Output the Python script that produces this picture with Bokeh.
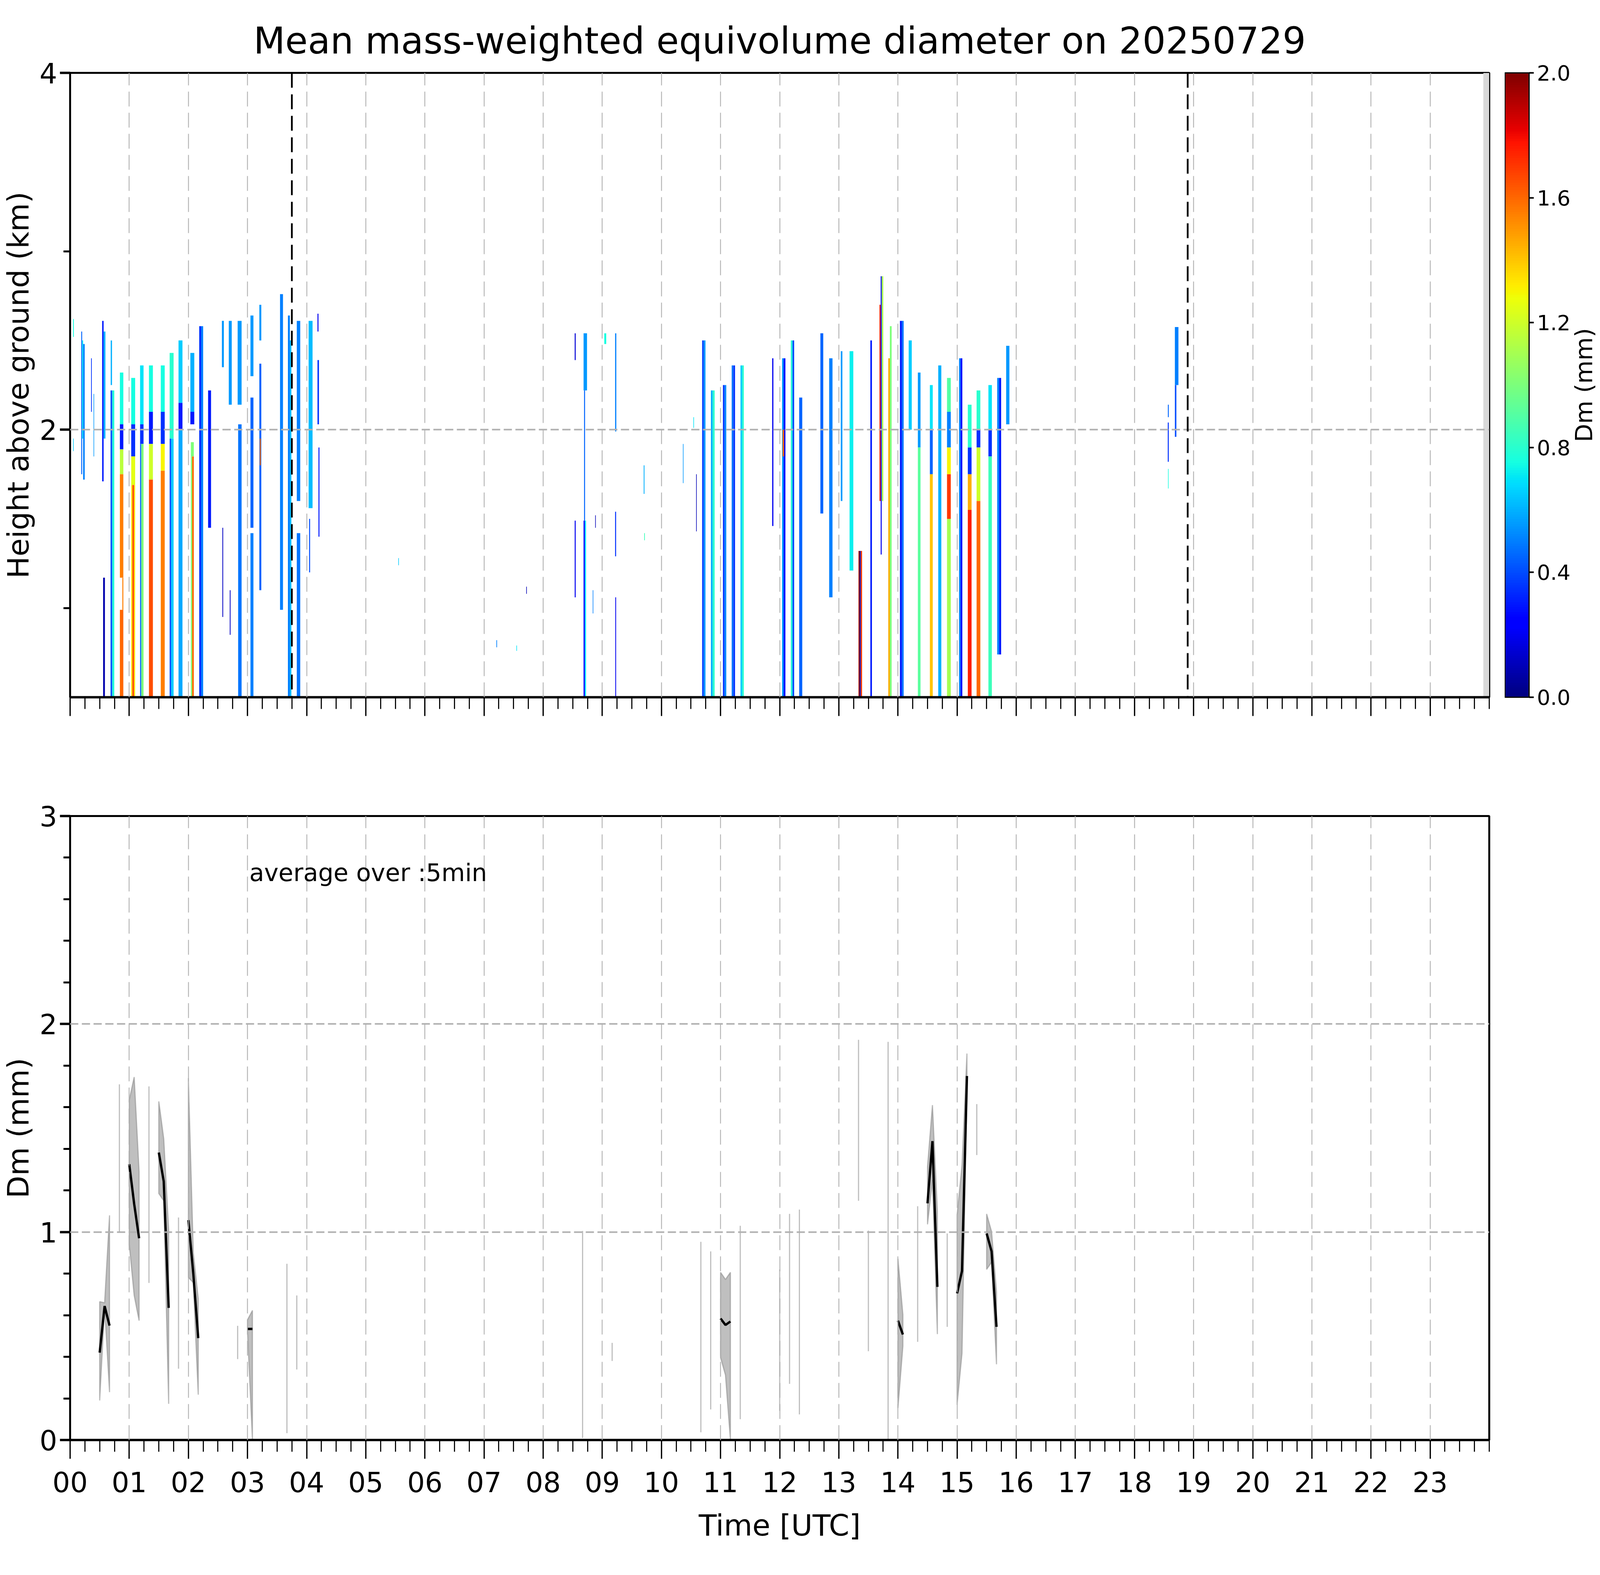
import numpy as np
from bokeh.plotting import figure
from bokeh.models import (ColumnDataSource, LinearColorMapper, ColorBar, FixedTicker,
                          PrintfTickFormatter, Span, Label, Range1d)
from bokeh.layouts import column, row
from bokeh.embed import file_html
from bokeh.resources import INLINE
from bokeh.transform import linear_cmap

FONT = "DejaVu Sans"
TITLE = "Mean mass-weighted equivolume diameter on 20250729"
hour_ticks = list(range(24))
hour_labels = ["%02d" % h for h in hour_ticks]
cbar_ticks = [0.0, 0.4, 0.8, 1.2, 1.6, 2.0]
dm_low, dm_high = 0.0, 2.0
height_range = (0.5, 4.0)
dm_range = (0.0, 3.0)
marker_hours = [3.75, 18.9]        # black dashed lines in upper panel
nodata_start_hour = 23.9           # grey (no data) band at end of day
note_text = "average over :5min"

# Upper panel: radar Dm curtains as cells (start min, end min, bottom km, top km, Dm mm)
cells_early = [
    (3.0, 3.8, 2.52, 2.62, 0.75), (3.0, 3.6, 1.88, 1.95, 0.65),
    (11.3, 12.2, 1.75, 2.55, 0.45), (12.2, 13.2, 1.95, 2.50, 0.70), (13.2, 14.8, 1.72, 2.48, 0.50),
    (21.3, 22.0, 2.10, 2.40, 0.35), (23.8, 24.4, 1.85, 2.20, 0.55),
    (32.5, 34.0, 1.71, 2.61, 0.30), (34.0, 35.8, 1.95, 2.55, 0.60), (33.5, 35.3, 0.50, 1.17, 0.08),
    (41.0, 42.8, 0.50, 2.22, 0.42), (42.8, 44.8, 0.50, 2.22, 0.78), (41.2, 42.5, 2.25, 2.50, 0.60),
    (50.5, 54.0, 2.03, 2.32, 0.75), (50.5, 54.0, 1.89, 2.03, 0.30), (50.5, 54.0, 1.75, 1.89, 1.15),
    (50.5, 54.0, 1.17, 1.75, 1.55), (53.0, 54.0, 0.99, 1.17, 1.55), (50.5, 54.0, 0.50, 0.99, 1.60),
    (62.0, 66.0, 2.03, 2.29, 0.75), (62.0, 66.0, 1.85, 2.03, 0.35), (62.0, 66.0, 1.69, 1.85, 1.25),
    (62.0, 63.2, 0.50, 1.69, 1.35), (63.2, 65.0, 0.50, 1.69, 1.65), (65.0, 66.0, 0.50, 1.69, 1.30),
    (71.0, 74.5, 2.03, 2.36, 0.70), (71.0, 74.5, 1.92, 2.03, 0.35),
    (71.0, 72.2, 0.50, 1.92, 0.45), (72.2, 74.5, 0.50, 1.92, 1.00),
    (80.0, 84.0, 2.10, 2.36, 0.75), (80.0, 84.0, 1.92, 2.10, 0.30),
    (80.0, 84.0, 1.72, 1.92, 1.20), (80.0, 84.0, 0.50, 1.72, 1.65),
    (92.0, 96.0, 2.10, 2.36, 0.75), (92.0, 96.0, 1.92, 2.10, 0.35),
    (92.0, 96.0, 1.77, 1.92, 1.30), (92.0, 96.0, 0.50, 1.77, 1.55),
    (101.0, 105.0, 1.95, 2.43, 0.80), (101.0, 102.5, 0.50, 1.95, 0.40), (102.5, 105.0, 0.50, 1.95, 0.65),
    (110.0, 114.0, 2.15, 2.50, 0.65), (110.0, 114.0, 2.00, 2.15, 0.30), (110.0, 114.0, 0.50, 2.00, 0.58),
    (122.0, 126.0, 2.10, 2.43, 0.60), (122.0, 126.0, 2.03, 2.10, 0.30), (122.5, 125.5, 1.85, 1.93, 1.00),
    (122.5, 123.8, 0.50, 1.85, 1.00), (123.8, 125.5, 0.50, 1.85, 1.60),
    (131.0, 133.0, 0.50, 2.58, 0.35), (133.0, 135.0, 0.50, 2.58, 0.50),
    (140.0, 143.0, 1.45, 2.22, 0.30),
    (154.0, 156.0, 2.35, 2.61, 0.55), (154.5, 155.3, 0.95, 1.45, 0.12),
    (161.0, 164.0, 2.14, 2.61, 0.55), (162.0, 162.8, 0.85, 1.10, 0.12),
    (170.0, 174.0, 2.14, 2.61, 0.55), (170.5, 174.0, 0.50, 2.03, 0.48),
    (183.0, 186.0, 2.30, 2.64, 0.55), (183.0, 186.0, 1.45, 2.18, 0.45), (183.0, 186.0, 0.50, 1.42, 0.50),
    (192.0, 194.0, 2.50, 2.70, 0.55), (192.0, 194.0, 1.10, 2.37, 0.45), (192.5, 193.5, 1.80, 1.95, 1.60),
    (213.0, 216.0, 0.99, 2.76, 0.50),
    (221.0, 223.0, 0.50, 2.64, 0.50), (223.0, 224.5, 0.50, 2.50, 0.62),
    (230.0, 233.5, 1.60, 2.61, 0.50), (230.0, 233.5, 0.50, 1.42, 0.48),
    (242.0, 246.0, 1.56, 2.61, 0.62), (242.5, 243.5, 1.20, 1.50, 0.40),
    (251.0, 252.5, 2.03, 2.39, 0.35), (251.0, 252.0, 2.55, 2.65, 0.20), (252.0, 253.0, 1.40, 1.90, 0.30),
]
cells_sparse = [
    (333.0, 333.6, 1.24, 1.28, 0.65), (432.5, 433.2, 0.78, 0.82, 0.50),
    (452.8, 453.4, 0.76, 0.79, 0.70), (462.8, 463.4, 1.08, 1.12, 0.10),
    (512.0, 513.0, 2.39, 2.54, 0.15), (512.0, 513.0, 1.06, 1.49, 0.20),
    (521.0, 524.5, 2.22, 2.54, 0.55), (521.5, 522.5, 1.49, 2.22, 0.45),
    (521.0, 522.3, 0.50, 1.49, 0.25), (522.3, 523.5, 0.50, 1.49, 0.70),
    (530.3, 530.9, 0.97, 1.10, 0.50), (532.8, 533.4, 1.45, 1.52, 0.10),
    (542.0, 544.0, 2.48, 2.54, 0.75),
    (553.0, 554.2, 1.99, 2.54, 0.50), (553.0, 554.0, 1.29, 1.54, 0.35), (553.2, 554.0, 0.50, 1.06, 0.20),
    (582.0, 582.8, 1.64, 1.80, 0.60), (582.5, 583.2, 1.38, 1.42, 0.85),
    (621.8, 622.4, 1.70, 1.92, 0.55), (632.4, 633.0, 2.01, 2.07, 0.70), (635.2, 635.8, 1.43, 1.75, 0.10),
]
cells_midday = [
    (641.3, 643.0, 0.50, 2.50, 0.38), (643.0, 644.7, 0.50, 2.50, 0.55),
    (650.2, 652.0, 0.50, 2.22, 0.60), (652.0, 654.0, 0.50, 2.22, 0.80),
    (662.4, 664.0, 0.50, 2.25, 0.35), (664.0, 665.8, 0.50, 2.25, 0.52),
    (671.3, 673.0, 0.50, 2.36, 0.48), (673.0, 674.7, 0.50, 2.36, 0.35),
    (680.2, 682.0, 0.50, 2.36, 0.65), (682.0, 683.6, 0.50, 2.36, 0.80),
    (712.4, 713.6, 1.46, 2.40, 0.20),
    (722.4, 724.0, 0.50, 2.40, 0.55), (724.0, 725.8, 0.50, 2.40, 0.25), (723.0, 724.5, 1.85, 2.00, 1.60),
    (731.3, 733.0, 0.50, 2.50, 0.78), (733.0, 734.7, 0.50, 2.50, 0.40),
    (739.8, 742.9, 0.50, 2.18, 0.45),
    (761.3, 764.2, 1.53, 2.54, 0.45), (770.2, 773.6, 1.06, 2.40, 0.50),
    (782.0, 783.6, 1.60, 2.44, 0.55), (790.9, 794.7, 1.21, 2.44, 0.72),
    (800.0, 801.2, 0.50, 1.32, 1.95), (801.2, 802.3, 0.50, 1.32, 0.10), (802.3, 803.6, 0.50, 1.32, 1.70),
    (812.0, 813.6, 0.50, 2.50, 0.30),
    (821.3, 822.5, 1.60, 2.70, 1.80), (822.5, 823.5, 1.30, 2.86, 0.20), (823.5, 825.1, 1.60, 2.86, 1.10),
    (830.2, 831.8, 0.50, 2.40, 1.45), (831.8, 833.6, 0.50, 2.58, 1.00),
    (842.0, 844.0, 0.50, 2.61, 0.30), (844.0, 845.8, 0.50, 2.61, 0.48),
    (850.9, 854.0, 2.00, 2.50, 0.65),
    (860.2, 862.9, 1.90, 2.32, 0.55), (860.2, 862.9, 0.50, 1.90, 0.92),
    (872.4, 875.3, 2.00, 2.25, 0.70), (872.4, 875.3, 1.75, 2.00, 0.45), (872.4, 875.3, 0.50, 1.75, 1.40),
    (880.9, 884.0, 0.50, 2.36, 0.60),
    (889.8, 893.6, 2.10, 2.29, 0.90), (889.8, 893.6, 1.90, 2.10, 0.50), (889.8, 893.6, 1.75, 1.90, 1.30),
    (889.8, 893.6, 1.50, 1.75, 1.70), (889.8, 893.6, 0.50, 1.50, 1.10),
    (902.0, 903.6, 0.50, 2.40, 0.50), (903.6, 905.3, 0.50, 2.40, 0.25),
    (910.9, 914.7, 1.90, 2.14, 0.80), (910.9, 914.7, 1.75, 1.90, 0.35),
    (910.9, 914.7, 1.55, 1.75, 1.45), (910.9, 914.7, 0.50, 1.55, 1.75),
    (919.8, 923.6, 2.00, 2.22, 0.80), (919.8, 923.6, 1.90, 2.00, 0.35),
    (919.8, 923.6, 1.60, 1.90, 1.20), (919.8, 923.6, 0.50, 1.60, 1.60),
    (931.8, 935.3, 2.00, 2.25, 0.70), (931.8, 935.3, 1.85, 2.00, 0.35), (931.8, 935.3, 0.50, 1.85, 0.85),
    (940.7, 942.7, 0.74, 2.29, 0.50), (942.7, 944.7, 0.74, 2.29, 0.30),
    (949.8, 953.1, 2.03, 2.47, 0.55),
]
cells_evening = [
    (1121.0, 1124.6, 2.25, 2.575, 0.50), (1121.0, 1122.5, 1.96, 2.25, 0.40),
    (1113.9, 1114.8, 2.07, 2.14, 0.45), (1113.8, 1114.8, 1.82, 2.04, 0.35),
    (1114.0, 1114.6, 1.67, 1.78, 0.75),
]

# Lower panel: 5-min averages (minutes of day, mean, lower, upper); nan mean = isolated sample
avg_min = [30, 35, 40, 50, 60, 65, 70, 80, 90, 95, 100, 110, 120, 125, 130, 170, 180, 185, 220, 230,
           520, 550, 640, 650, 660, 665, 670, 680, 720, 730, 740, 800, 810, 830, 840, 845, 860,
           870, 875, 880, 890, 900, 905, 910, 920, 930, 935, 940]
avg_mean = [0.42, 0.644, 0.55, np.nan, 1.326, 1.135, 0.97, np.nan, 1.382, 1.243, 0.635, np.nan,
            1.057, 0.80, 0.49, np.nan, 0.534, 0.534, np.nan, np.nan,
            np.nan, np.nan, np.nan, np.nan, 0.584, 0.553, 0.570, np.nan, np.nan, np.nan, np.nan,
            np.nan, np.nan, np.nan, 0.574, 0.507, np.nan,
            1.138, 1.437, 0.736, np.nan, 0.705, 0.813, 1.75, np.nan, 0.993, 0.907, 0.544]
avg_lo = [0.19, 0.64, 0.23, 1.0, 0.94, 0.695, 0.574, 0.755, 1.185, 1.15, 0.174, 0.343,
          0.782, 0.756, 0.218, 0.389, 0.52, 0.0, 0.033, 0.339,
          0.01, 0.38, 0.037, 0.147, 0.396, 0.312, 0.0, 0.10, 0.14, 0.27, 0.123,
          1.15, 0.427, 0.0, 0.154, 0.451, 0.472,
          1.037, 1.25, 0.509, 0.544, 0.17, 0.417, 1.70, 1.37, 0.82, 0.855, 0.364]
avg_hi = [0.665, 0.66, 1.08, 1.71, 1.635, 1.745, 1.29, 1.70, 1.628, 1.448, 1.01, 1.07,
          1.74, 0.90, 0.68, 0.549, 0.578, 0.623, 0.847, 0.695,
          1.005, 0.467, 0.953, 0.907, 0.806, 0.772, 0.806, 1.03, 0.82, 1.087, 1.108,
          1.924, 1.007, 1.914, 0.872, 0.603, 1.124,
          1.314, 1.61, 1.10, 0.993, 1.082, 1.32, 1.858, 1.615, 1.087, 1.002, 0.712]


def jet_palette(n=256):
    x = np.linspace(0, 1, n)
    r = np.interp(x, [0, 0.35, 0.66, 0.89, 1], [0, 0, 1, 1, 0.5])
    g = np.interp(x, [0, 0.125, 0.375, 0.64, 0.91, 1], [0, 0, 1, 1, 0, 0])
    b = np.interp(x, [0, 0.11, 0.34, 0.65, 1], [0.5, 1, 1, 0, 0])
    return ["#%02x%02x%02x" % (int(round(ri * 255)), int(round(gi * 255)), int(round(bi * 255)))
            for ri, gi, bi in zip(r, g, b)]


JET = jet_palette()
FRAME_W, FRAME_H = 3633, 1598
LEFT = 175
TOP1, BOT1 = 186, 60
GRID_COLOR = "#b0b0b0"
TICK_PX = "71px"
LABEL_PX = "75px"


def style(p, ylabel):
    p.outline_line_color = "black"
    p.outline_line_width = 5
    p.background_fill_color = "white"
    p.border_fill_color = "white"
    for ax in (p.xaxis[0], p.yaxis[0]):
        ax.axis_line_color = "black"
        ax.major_tick_in = 0
        ax.minor_tick_in = 0
        ax.major_label_text_font = FONT
        ax.major_label_text_font_size = TICK_PX
        ax.major_label_text_color = "black"
        ax.axis_label_text_font = FONT
        ax.axis_label_text_font_size = LABEL_PX
        ax.axis_label_text_font_style = "normal"
        ax.axis_label_text_color = "black"
        ax.major_tick_line_color = "black"
        ax.minor_tick_line_color = "black"
    xa, ya = p.xaxis[0], p.yaxis[0]
    xa.axis_line_width = 6
    xa.major_tick_out, xa.minor_tick_out = 48, 30
    xa.major_tick_line_width, xa.minor_tick_line_width = 3.3, 2.8
    ya.axis_line_width = 4
    ya.major_tick_out, ya.minor_tick_out = 26, 17
    ya.major_tick_line_width, ya.minor_tick_line_width = 6, 5
    ya.axis_label = ylabel
    ya.axis_label_standoff = 7
    ya.major_label_standoff = 7
    xt = FixedTicker(ticks=hour_ticks, minor_ticks=[i * 0.25 for i in range(97)])
    p.xaxis.ticker = xt
    p.xgrid.ticker = xt
    p.xgrid.grid_line_dash = "38 16"
    p.xgrid.grid_line_width = 2.2
    p.ygrid.grid_line_dash = "21 9"
    p.ygrid.grid_line_width = 4
    for g in (p.xgrid[0], p.ygrid[0]):
        g.grid_line_color = GRID_COLOR
        g.level = "annotation"


# ---------- upper panel ----------
cells = cells_early + cells_sparse + cells_midday + cells_evening
src = ColumnDataSource(dict(
    left=[c[0] / 60.0 for c in cells], right=[c[1] / 60.0 for c in cells],
    bottom=[c[2] for c in cells], top=[c[3] for c in cells], dm=[c[4] for c in cells]))

p1 = figure(frame_width=FRAME_W, frame_height=FRAME_H, output_backend="svg", toolbar_location=None,
            x_range=Range1d(0, 24), y_range=Range1d(*height_range),
            min_border_left=LEFT, min_border_right=40, min_border_top=TOP1, min_border_bottom=BOT1)
p1.title.text = TITLE
p1.title.align = "center"
p1.title.text_font = FONT
p1.title.text_font_size = "94px"
p1.title.text_font_style = "normal"
p1.title.text_color = "black"
p1.title.standoff = 56
style(p1, "Height above ground (km)")
yt1 = FixedTicker(ticks=[2, 4], minor_ticks=[1, 3])
p1.yaxis.ticker = yt1
p1.ygrid.ticker = yt1
p1.xaxis.major_label_text_font_size = "0px"
p1.xaxis.major_label_overrides = {h: "" for h in hour_ticks}

p1.quad(left=nodata_start_hour, right=24, bottom=height_range[0], top=height_range[1],
        fill_color="#d9d9d9", line_color=None)
p1.quad(left="left", right="right", bottom="bottom", top="top", source=src,
        fill_color=linear_cmap("dm", JET, dm_low, dm_high), line_color=None)
for mh in marker_hours:
    p1.add_layout(Span(location=mh, dimension="height", line_color="black",
                       line_width=4.5, line_dash="38 17"))

# ---------- colour bar (own narrow figure to the right of the upper panel) ----------
CB_W = 240
pcb = figure(frame_width=CB_W, frame_height=FRAME_H, output_backend="svg", toolbar_location=None,
             x_range=Range1d(0, 1), y_range=Range1d(0, 1), x_axis_location=None,
             y_axis_location=None, min_border_left=0, min_border_right=0,
             min_border_top=TOP1, min_border_bottom=BOT1)
pcb.outline_line_color = None
pcb.grid.visible = False
pcb.background_fill_color = "white"
pcb.border_fill_color = "white"
mapper = LinearColorMapper(palette=JET, low=dm_low, high=dm_high)
cb = ColorBar(color_mapper=mapper, ticker=FixedTicker(ticks=cbar_ticks),
              formatter=PrintfTickFormatter(format="%.1f"), width=62, height=FRAME_H,
              major_label_text_font=FONT, major_label_text_font_size="54px",
              major_label_text_color="black",
              major_tick_out=12, major_tick_in=0, major_tick_line_color="black",
              major_tick_line_width=4, minor_tick_line_color=None,
              bar_line_color="black", bar_line_width=3, label_standoff=8,
              padding=0, margin=0, location=(0, 0), background_fill_alpha=0)
pcb.add_layout(cb, "center")
pcb.add_layout(Label(x=(4050 - 3848) / CB_W, y=0.5, text="Dm (mm)", angle=np.pi / 2,
                     text_align="center", text_baseline="middle", text_font=FONT,
                     text_font_size="61px", text_color="black"))

# ---------- lower panel ----------
tt = np.array(avg_min) / 60.0
mean = np.array(avg_mean)
lo = np.array(avg_lo)
hi = np.array(avg_hi)
runs, start = [], 0
for i in range(1, len(avg_min) + 1):
    if i == len(avg_min) or avg_min[i] - avg_min[i - 1] != 5:
        runs.append((start, i))
        start = i
pxs, pys, lxs, lys, sx, slo, shi = [], [], [], [], [], [], []
for a, b in runs:
    if b - a >= 2:
        pxs.append(list(tt[a:b]) + list(tt[a:b][::-1]))
        pys.append(list(hi[a:b]) + list(lo[a:b][::-1]))
        lxs.append(list(tt[a:b]))
        lys.append(list(mean[a:b]))
    else:
        sx.append(tt[a]); slo.append(lo[a]); shi.append(hi[a])

p2 = figure(frame_width=FRAME_W, frame_height=1597, output_backend="svg", toolbar_location=None,
            x_range=Range1d(0, 24), y_range=Range1d(*dm_range),
            min_border_left=LEFT, min_border_right=CB_W + 40, min_border_top=244, min_border_bottom=60)
style(p2, "Dm (mm)")
yt2 = FixedTicker(ticks=[0, 1, 2, 3], minor_ticks=[i * 0.2 for i in range(16)])
p2.yaxis.ticker = yt2
p2.ygrid.ticker = yt2
p2.xaxis.major_label_overrides = {h: lab for h, lab in zip(hour_ticks, hour_labels)}
p2.xaxis.major_label_standoff = 32
p2.xaxis.axis_label = "Time [UTC]"
p2.xaxis.axis_label_standoff = 38

p2.patches(pxs, pys, fill_color="grey", fill_alpha=0.5, line_color="grey", line_alpha=0.5, line_width=3)
p2.segment(x0=sx, y0=slo, x1=sx, y1=shi, line_color="grey", line_alpha=0.5, line_width=3)
p2.multi_line(lxs, lys, line_color="black", line_width=6)
p2.add_layout(Label(x=3.03, y=2.728, text=note_text, text_baseline="alphabetic",
                    text_font=FONT, text_font_size="62px", text_color="black"))

layout = column(row(p1, pcb), p2)
open("out.html", "w").write(file_html(layout, INLINE))
